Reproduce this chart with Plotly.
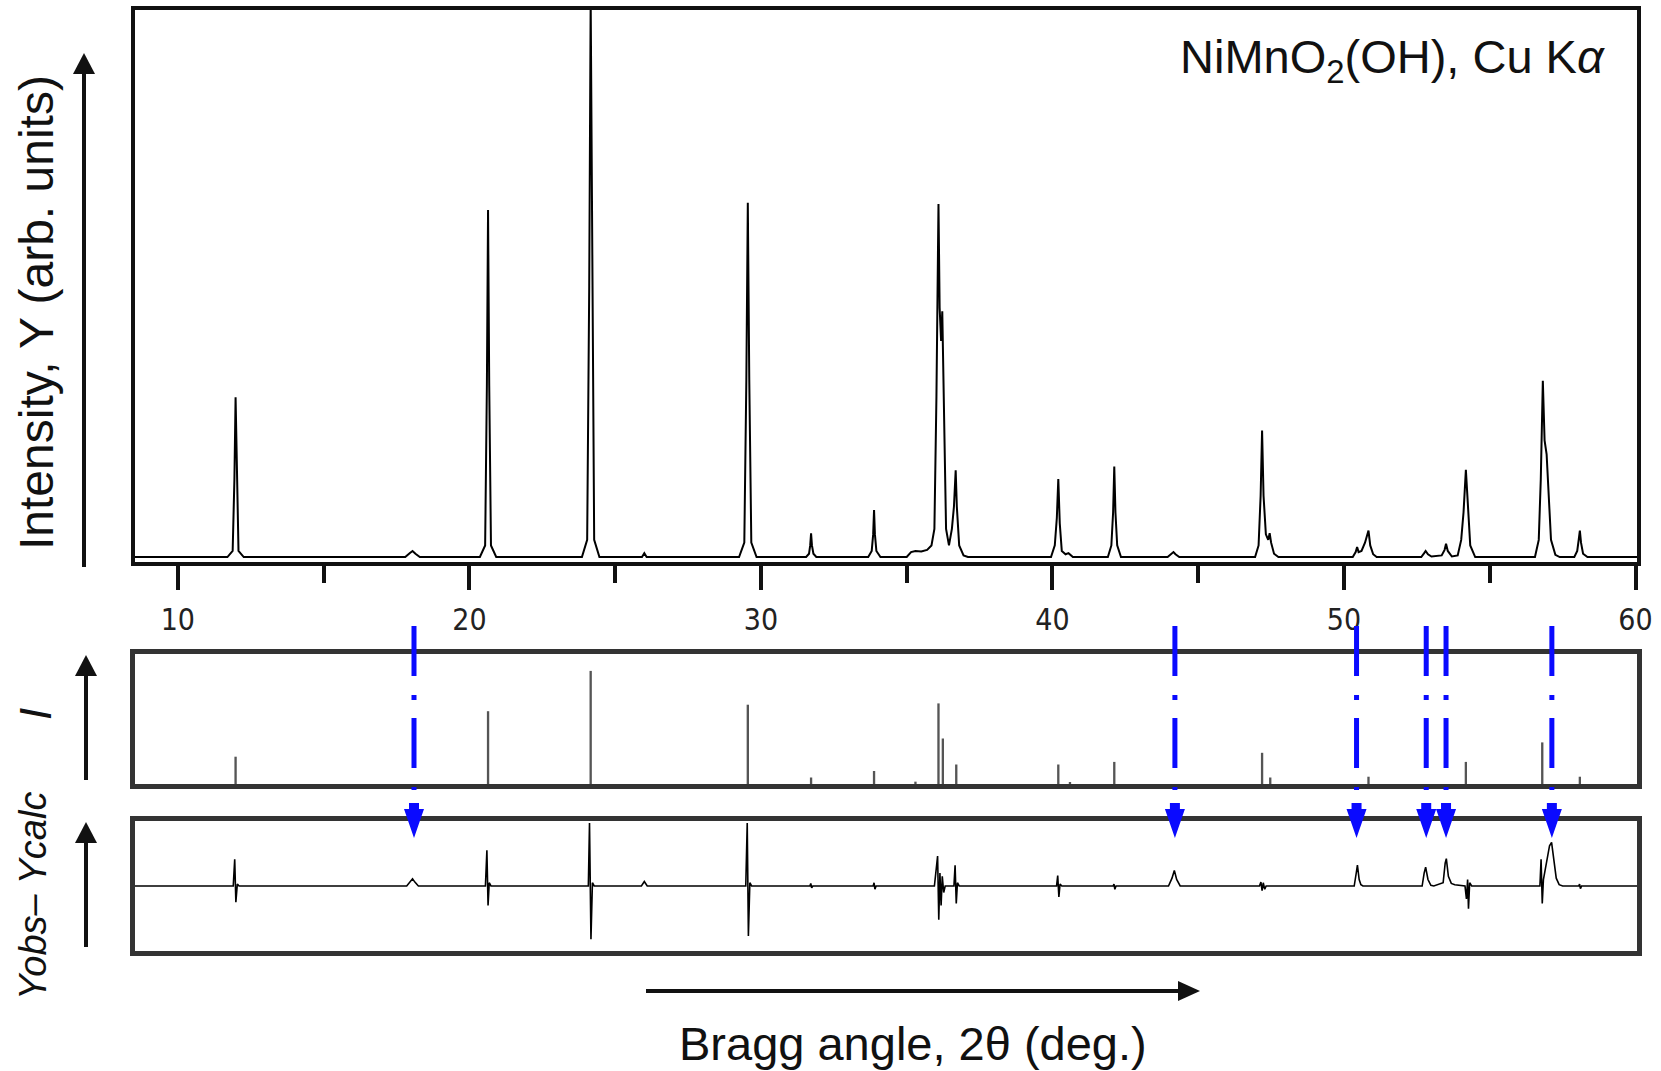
import plotly.graph_objects as go

# ---------------- data ----------------
# Observed XRD pattern, 2theta (deg) and relative intensity (fraction of panel height)
obs_x = [8.53, 11.70, 11.88, 11.94, 11.98, 12.02, 12.08, 12.26,
         17.80, 17.95, 18.05, 18.15, 18.30,
         20.36, 20.54, 20.60, 20.64, 20.68, 20.74, 20.92,
         23.86, 24.04, 24.11, 24.16, 24.21, 24.28, 24.46,
         25.92, 26.00, 26.08,
         29.25, 29.43, 29.50, 29.55, 29.60, 29.67, 29.85,
         31.55, 31.65, 31.69, 31.72, 31.75, 31.80, 31.90,
         33.68, 33.80, 33.85, 33.88, 33.91, 33.96, 34.10,
         35.00, 35.15, 35.30, 35.50, 35.70, 35.85, 35.95, 36.02, 36.09, 36.13, 36.18,
         36.22, 36.28, 36.35, 36.45, 36.55, 36.62, 36.68, 36.72, 36.80, 36.95, 37.10,
         39.95, 40.08, 40.15, 40.20, 40.25, 40.32, 40.45, 40.55, 40.70,
         41.90, 42.02, 42.08, 42.12, 42.16, 42.22, 42.35,
         43.95, 44.08, 44.15, 44.22, 44.35,
         46.95, 47.07, 47.14, 47.19, 47.24, 47.32, 47.40, 47.45, 47.50, 47.60, 47.75,
         50.30, 50.40, 50.45, 50.50, 50.60, 50.72, 50.80, 50.84, 50.90, 51.00, 51.12,
         52.65, 52.75, 52.80, 52.88, 53.00, 53.35, 53.45, 53.50, 53.56, 53.70,
         53.90, 54.02, 54.10, 54.18, 54.25, 54.33, 54.50,
         56.55, 56.68, 56.75, 56.82, 56.88, 56.95, 57.02, 57.10, 57.25, 57.40,
         57.90, 58.00, 58.05, 58.09, 58.13, 58.20, 58.35, 60.05]
obs_y = [0.009, 0.009, 0.02, 0.15, 0.298, 0.15, 0.02, 0.009,
         0.009, 0.016, 0.020, 0.015, 0.009,
         0.009, 0.03, 0.32, 0.637, 0.32, 0.03, 0.009,
         0.009, 0.04, 0.50, 1.02, 0.50, 0.04, 0.009,
         0.009, 0.016, 0.009,
         0.009, 0.035, 0.33, 0.65, 0.33, 0.035, 0.009,
         0.009, 0.015, 0.03, 0.052, 0.03, 0.015, 0.009,
         0.009, 0.02, 0.05, 0.094, 0.05, 0.02, 0.009,
         0.009, 0.018, 0.020, 0.019, 0.022, 0.03, 0.06, 0.30, 0.648, 0.46, 0.40,
         0.454, 0.25, 0.06, 0.03, 0.06, 0.10, 0.166, 0.10, 0.03, 0.012, 0.009,
         0.009, 0.03, 0.08, 0.150, 0.07, 0.02, 0.014, 0.016, 0.009,
         0.009, 0.03, 0.09, 0.173, 0.09, 0.03, 0.009,
         0.009, 0.014, 0.018, 0.014, 0.009,
         0.009, 0.03, 0.12, 0.238, 0.12, 0.05, 0.04, 0.052, 0.035, 0.015, 0.009,
         0.009, 0.018, 0.027, 0.018, 0.02, 0.035, 0.052, 0.057, 0.03, 0.014, 0.009,
         0.009, 0.016, 0.020, 0.014, 0.010, 0.012, 0.022, 0.033, 0.02, 0.010,
         0.012, 0.04, 0.09, 0.167, 0.09, 0.03, 0.009,
         0.009, 0.04, 0.15, 0.328, 0.22, 0.195, 0.11, 0.04, 0.013, 0.009,
         0.009, 0.02, 0.04, 0.057, 0.035, 0.015, 0.009, 0.009]

# Calculated reflection positions and intensities (middle panel)
refl_x = [11.98, 20.64, 24.16, 29.55, 31.72, 33.88, 35.30, 36.09, 36.24, 36.70,
          40.20, 40.60, 42.12, 47.19, 47.47, 50.84, 54.18, 56.80, 58.09]
refl_I = [0.21, 0.56, 0.87, 0.61, 0.05, 0.10, 0.018, 0.62, 0.35, 0.15,
          0.15, 0.015, 0.17, 0.24, 0.05, 0.056, 0.17, 0.32, 0.056]

# Difference curve Yobs - Ycalc (fraction of half panel height)
diff_x = [8.53, 11.90, 11.95, 11.99, 12.04, 12.10,
          17.85, 17.97, 18.05, 18.13, 18.25,
          20.55, 20.60, 20.64, 20.68, 20.74,
          24.08, 24.12, 24.17, 24.22, 24.28,
          25.90, 26.00, 26.10,
          29.48, 29.53, 29.57, 29.62, 29.68,
          31.68, 31.71, 31.74, 31.78,
          33.85, 33.88, 33.91, 33.95,
          35.95, 36.02, 36.06, 36.10, 36.14, 36.18, 36.22, 36.27, 36.32,
          36.62, 36.66, 36.70, 36.74, 36.80,
          40.14, 40.18, 40.22, 40.26, 40.32,
          42.08, 42.11, 42.14, 42.18,
          43.98, 44.10, 44.18, 44.26, 44.38,
          47.10, 47.15, 47.19, 47.23, 47.28, 47.33,
          50.35, 50.42, 50.46, 50.52, 50.58, 50.65,
          52.68, 52.75, 52.80, 52.88, 52.98, 53.08,
          53.40, 53.47, 53.51, 53.58, 53.68, 53.80,
          54.15, 54.20, 54.24, 54.27, 54.31, 54.38,
          56.72, 56.76, 56.80, 56.84, 56.90, 56.98, 57.05, 57.12, 57.20, 57.28, 57.38, 57.50,
          58.05, 58.08, 58.11, 58.15, 60.05]
diff_y = [0, 0, 0.41, -0.25, 0.03, 0,
          0, 0.07, 0.11, 0.06, 0,
          0, 0.55, -0.30, 0.05, 0,
          0, 0.97, -0.82, 0.05, 0,
          0, 0.07, 0,
          0, 0.97, -0.77, 0.05, 0,
          0, 0.04, -0.03, 0,
          0, 0.05, -0.05, 0,
          0, 0.25, 0.46, -0.52, 0.20, -0.30, 0.15, -0.10, 0,
          0, 0.32, -0.27, 0.05, 0,
          0, 0.16, -0.17, 0.03, 0,
          0, 0.03, -0.05, 0,
          0, 0.12, 0.24, 0.10, 0,
          0, 0.06, -0.07, 0.05, -0.05, 0,
          0, 0.20, 0.32, 0.10, 0.02, 0,
          0, 0.20, 0.29, 0.10, 0.01, 0,
          0.05, 0.35, 0.42, 0.15, 0.04, 0.02,
          0, -0.20, 0.10, -0.35, 0.05, 0,
          0, 0.41, -0.27, 0.10, 0.25, 0.50, 0.62, 0.67, 0.40, 0.12, 0.02, 0,
          0, 0.03, -0.04, 0, 0]

# Unindexed (impurity) peak positions marked in blue
marker_x = [18.10, 44.20, 50.43, 52.82, 53.50, 57.13]

x_ticks = [10, 20, 30, 40, 50, 60]
x_minor = [15, 25, 35, 45, 55]
x_range = [8.53, 60.05]

# ---------------- layout helpers ----------------
W, H = 1661, 1071
def fx(p):
    return p / W
def fy(p):
    return 1 - p / H

FONT = "Liberation Sans, Arial, sans-serif"
TICKFONT = "Liberation Sans Narrow, DejaVu Sans Condensed, Liberation Sans, sans-serif"
x_dom = [fx(135), fx(1637)]

fig = go.Figure()
fig.add_trace(go.Scatter(x=obs_x, y=obs_y, mode="lines", line=dict(color="#000", width=2),
                         xaxis="x", yaxis="y", hoverinfo="skip"))
fig.add_trace(go.Bar(x=refl_x, y=refl_I, width=0.08, marker=dict(color="#555", line=dict(width=0)),
                     xaxis="x2", yaxis="y2", hoverinfo="skip"))
fig.add_trace(go.Scatter(x=diff_x, y=diff_y, mode="lines", line=dict(color="#000", width=1.6),
                         xaxis="x3", yaxis="y3", hoverinfo="skip"))

frame = dict(showline=True, mirror=True, showgrid=False, zeroline=False, automargin=False)

fig.update_layout(
    width=W, height=H, autosize=False, margin=dict(l=0, r=0, t=0, b=0, pad=0),
    paper_bgcolor="white", plot_bgcolor="white", showlegend=False,
    font=dict(family=FONT, color="#111"),
    xaxis=dict(domain=x_dom, range=x_range, anchor="y", **frame,
               linecolor="#111", linewidth=4,
               tickmode="array", tickvals=x_ticks, ticks="outside", ticklen=24, tickwidth=4,
               tickcolor="#111", tickfont=dict(family=TICKFONT, size=30, color="#222"),
               ticklabelstandoff=4,
               minor=dict(tickmode="array", tickvals=x_minor, ticks="outside",
                          ticklen=17, tickwidth=4, tickcolor="#111")),
    yaxis=dict(domain=[fy(562), fy(9.5)], range=[0, 1], anchor="x", **frame,
               linecolor="#111", linewidth=4, ticks="", showticklabels=False),
    xaxis2=dict(domain=x_dom, range=x_range, anchor="y2", **frame,
                linecolor="#333", linewidth=4.5, ticks="", showticklabels=False),
    yaxis2=dict(domain=[fy(784), fy(654)], range=[0, 1], anchor="x2", **frame,
                linecolor="#333", linewidth=4.5, ticks="", showticklabels=False),
    xaxis3=dict(domain=x_dom, range=x_range, anchor="y3", **frame,
                linecolor="#333", linewidth=4.5, ticks="", showticklabels=False),
    yaxis3=dict(domain=[fy(951), fy(821)], range=[-1, 1], anchor="x3", **frame,
                linecolor="#333", linewidth=4.5, ticks="", showticklabels=False),
)

shapes = []
BLUE = "#0a0aff"
for xm in marker_x:
    shapes.append(dict(type="line", xref="x2", yref="paper", x0=xm, x1=xm, y0=fy(626), y1=fy(790),
                       line=dict(color=BLUE, width=5, dash="50px,19px,5px,18px"), layer="above"))
    shapes.append(dict(type="path", xref="x3", yref="paper", xsizemode="pixel", xanchor=xm,
                       ysizemode="pixel", yanchor=fy(838),
                       path="M-5,35 L5,35 L5,29 L10,29 L0,0 L-10,29 L-5,29 Z",
                       fillcolor=BLUE, line=dict(width=0), layer="above"))

def arrow_v(x, y_tail, y_tip):
    # vertical arrow pointing up (pixel coordinates of the page)
    shapes.append(dict(type="line", xref="paper", yref="paper", x0=fx(x), x1=fx(x),
                       y0=fy(y_tail), y1=fy(y_tip + 18), line=dict(color="#111", width=4)))
    shapes.append(dict(type="path", xref="paper", yref="paper",
                       path=f"M{fx(x)},{fy(y_tip)} L{fx(x - 11)},{fy(y_tip + 21)} L{fx(x + 11)},{fy(y_tip + 21)} Z",
                       fillcolor="#111", line=dict(width=0)))

arrow_v(84, 567, 53)
arrow_v(86, 780, 655)
arrow_v(86, 947, 822)
# horizontal arrow under x axis
shapes.append(dict(type="line", xref="paper", yref="paper", x0=fx(646), x1=fx(1182),
                   y0=fy(991), y1=fy(991), line=dict(color="#111", width=4)))
shapes.append(dict(type="path", xref="paper", yref="paper",
                   path=f"M{fx(1200)},{fy(991)} L{fx(1178)},{fy(981)} L{fx(1178)},{fy(1001)} Z",
                   fillcolor="#111", line=dict(width=0)))
fig.update_layout(shapes=shapes)

ann = [
    dict(text="Intensity, Y (arb. units)", x=fx(36), y=fy(313), textangle=-90,
         font=dict(size=48, family=FONT, color="#111")),
    dict(text="<i>I</i>", x=fx(35), y=fy(714), textangle=-90,
         font=dict(size=44, family=FONT, color="#111")),
    dict(text="<i>Yobs– Ycalc</i>", x=fx(33), y=fy(896), textangle=-90,
         font=dict(size=38, family=FONT, color="#111")),
    dict(text="Bragg angle, 2θ (deg.)", x=fx(913), y=fy(1043),
         font=dict(size=47, family=FONT, color="#111")),
    dict(text="NiMnO<sub>2</sub>(OH), Cu K<i>α</i>", x=fx(1607), y=fy(60), xanchor="right",
         font=dict(size=47, family=FONT, color="#111")),
]
for a in ann:
    a.setdefault("xref", "paper")
    a.setdefault("yref", "paper")
    a.setdefault("showarrow", False)
    a.setdefault("xanchor", "center")
    a.setdefault("yanchor", "middle")
fig.update_layout(annotations=ann)

fig.write_html("out.html",
               config={"displayModeBar": False, "responsive": False},
               post_script="document.body.style.margin='0';document.body.style.overflow='hidden';")
